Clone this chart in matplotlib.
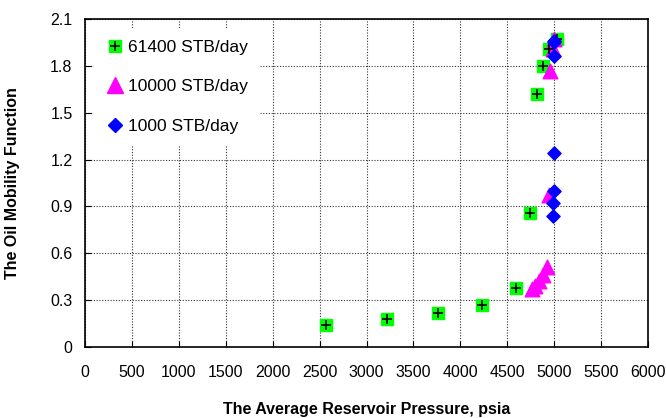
import matplotlib
matplotlib.use('Agg')
import matplotlib.pyplot as plt
from matplotlib.lines import Line2D

plt.rcParams['font.family'] = ['Liberation Sans', 'DejaVu Sans']

# 61400 STB/day
p_61400 = [2570, 3220, 3760, 4230, 4590, 4740, 4820, 4880, 4950, 5030]
m_61400 = [0.14, 0.18, 0.22, 0.27, 0.38, 0.86, 1.62, 1.80, 1.91, 1.97]
# 10000 STB/day
p_10000 = [4760, 4800, 4840, 4880, 4920, 4940, 4960, 4990, 5000]
m_10000 = [0.37, 0.39, 0.42, 0.46, 0.51, 0.97, 1.77, 1.91, 1.97]
# 1000 STB/day
p_1000 = [5000, 5000, 5000, 5000, 5000, 4990, 4990]
m_1000 = [1.96, 1.95, 1.86, 1.24, 1.00, 0.92, 0.84]

xticks = list(range(0, 6001, 500))
yticks = [0, 0.3, 0.6, 0.9, 1.2, 1.5, 1.8, 2.1]
ytick_labels = ['0', '0.3', '0.6', '0.9', '1.2', '1.5', '1.8', '2.1']

fig = plt.figure(figsize=(6.66, 4.18), dpi=100)
ax = fig.add_axes([85 / 666, 71 / 418, 563 / 666, 328 / 418])

ax.scatter(p_61400, m_61400, marker='s', s=85, color='#00ff00', zorder=3)
ax.scatter(p_61400, m_61400, marker='+', s=45, color='black', linewidths=1.2, zorder=4)
ax.scatter(p_10000, m_10000, marker='^', s=110, color='#ff00ff', zorder=3)
ax.scatter(p_1000, m_1000, marker='D', s=45, color='#0000ff', zorder=5)

ax.set_xlim(0, 6000)
ax.set_ylim(0, 2.1)
ax.set_xticks(xticks)
ax.set_yticks(yticks)
ax.set_yticklabels(ytick_labels)
ax.grid(True, color='#333333', linestyle=(0, (1, 1.5)), linewidth=0.8)
ax.set_axisbelow(True)
ax.tick_params(direction='in', length=4, labelsize=11.5)
ax.tick_params(axis='x', pad=13)
ax.tick_params(axis='y', pad=9)
for sp in ax.spines.values():
    sp.set_linewidth(1.2)

ax.set_xlabel('The Average Reservoir Pressure, psia', fontsize=11.5, fontweight='bold', labelpad=16)
ax.set_ylabel('The Oil Mobility Function', fontsize=11.5, fontweight='bold', labelpad=22)

# legend: green square with black cross for the first entry
h1 = (Line2D([], [], marker='s', markersize=9, color='#00ff00', linestyle='none'),
      Line2D([], [], marker='+', markersize=6.5, color='black', linestyle='none', markeredgewidth=1.2))
h2 = Line2D([], [], marker='^', markersize=11, color='#ff00ff', linestyle='none')
h3 = Line2D([], [], marker='D', markersize=7, color='#0000ff', linestyle='none')
leg = ax.legend([h1, h2, h3], ['61400 STB/day', '10000 STB/day', '1000 STB/day'],
                loc='upper left', bbox_to_anchor=(0.0, 0.995), frameon=True,
                fontsize=12.5, labelspacing=1.4, handletextpad=0.2, handlelength=1.2,
                borderpad=0.6, fancybox=False)
leg.get_frame().set_edgecolor('white')
leg.get_frame().set_facecolor('white')
leg.get_frame().set_alpha(1)

fig.savefig('out.png', dpi=100)
